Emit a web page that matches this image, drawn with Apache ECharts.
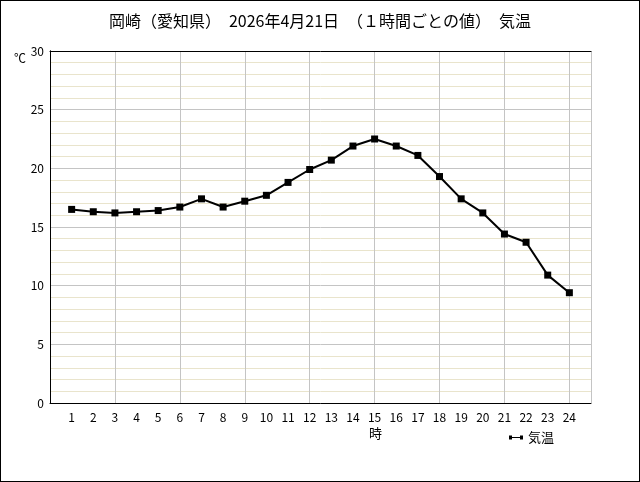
<!DOCTYPE html>
<html>
<head>
<meta charset="utf-8">
<script src="https://cdn.jsdelivr.net/npm/echarts@6/dist/echarts.min.js"></script>
<style>
  html, body { margin: 0; padding: 0; background: #fff; }
  #chart { width: 640px; height: 482px; box-sizing: border-box; border: 1px solid #000; }
</style>
</head>
<body>
<div id="chart"></div>
<script>
"use strict";

// 岡崎 気温（1時間ごと）
const hours = [1, 2, 3, 4, 5, 6, 7, 8, 9, 10, 11, 12, 13, 14, 15, 16, 17, 18, 19, 20, 21, 22, 23, 24];
const temps = [16.5, 16.3, 16.2, 16.3, 16.4, 16.7, 17.4, 16.7, 17.2, 17.7, 18.8, 19.9,
               20.7, 21.9, 22.5, 21.9, 21.1, 19.3, 17.4, 16.2, 14.4, 13.7, 10.9, 9.4];
const yTicks = [0, 5, 10, 15, 20, 25, 30];

const FONT = '"Noto Sans CJK JP", sans-serif';
const FRAME = { show: true, lineStyle: { color: "#000", width: 1 } };

const chart = echarts.init(document.getElementById("chart"));

chart.setOption({
  backgroundColor: "#fff",
  animation: false,
  title: {
    text: "岡崎（愛知県）　2026年4月21日　（１時間ごとの値）　気温",
    left: "center", top: 7,
    textStyle: { fontFamily: FONT, fontSize: 16, fontWeight: "normal", color: "#000" }
  },
  legend: {
    data: ["気温"],
    left: 503, top: 425,
    itemWidth: 14, itemHeight: 5, itemGap: 4,
    icon: "path://M0,0h3v4h-3z M3,1.5h8v1h-8z M11,0h3v4h-3z",
    textStyle: { fontFamily: FONT, fontSize: 13, color: "#000" }
  },
  grid: { left: 49, right: 48, top: 50, bottom: 78, containLabel: false },
  graphic: [
    { type: "text", left: 13, top: 51, style: { text: "℃", font: "12px " + FONT, fill: "#000" } },
    { type: "text", left: 368, top: 426, style: { text: "時", font: "13px " + FONT, fill: "#000" } }
  ],
  xAxis: [
    {
      // 縦グリッド（3時間ごと）
      type: "value", min: 0, max: 25, interval: 3,
      axisLine: FRAME, axisTick: { show: false }, axisLabel: { show: false },
      splitLine: { show: true, lineStyle: { color: "#c4c4c4", width: 1 } }
    },
    {
      // 時刻ラベル
      type: "value", position: "bottom", min: 0, max: 25, interval: 1,
      axisLine: { show: false }, axisTick: { show: false },
      splitLine: { show: false },
      axisLabel: {
        margin: 8, fontFamily: FONT, fontSize: 12, color: "#000",
        formatter: v => (hours.includes(v) ? String(v) : "")
      }
    },
    {
      // 上枠
      type: "value", position: "top", min: 0, max: 25,
      axisLine: FRAME, axisTick: { show: false }, axisLabel: { show: false },
      splitLine: { show: false }
    }
  ],
  yAxis: [
    {
      type: "value", min: yTicks[0], max: yTicks[yTicks.length - 1], interval: 5,
      axisLine: FRAME, axisTick: { show: false },
      axisLabel: { margin: 6, fontFamily: FONT, fontSize: 12, color: "#000" },
      splitLine: { show: true, lineStyle: { color: "#c4c4c4", width: 1 } },
      minorTick: { show: false, splitNumber: 5 },
      minorSplitLine: { show: true, lineStyle: { color: "#e9e4cc", width: 1 } }
    },
    {
      // 右枠
      type: "value", position: "right", min: 0, max: 30,
      axisLine: FRAME, axisTick: { show: false }, axisLabel: { show: false },
      splitLine: { show: false }
    }
  ],
  series: [{
    name: "気温", type: "line", xAxisIndex: 0, yAxisIndex: 0,
    data: hours.map((h, i) => [h, temps[i]]),
    symbol: "rect", symbolSize: 7,
    lineStyle: { color: "#000", width: 2 },
    itemStyle: { color: "#000" }
  }]
});
</script>
</body>
</html>
